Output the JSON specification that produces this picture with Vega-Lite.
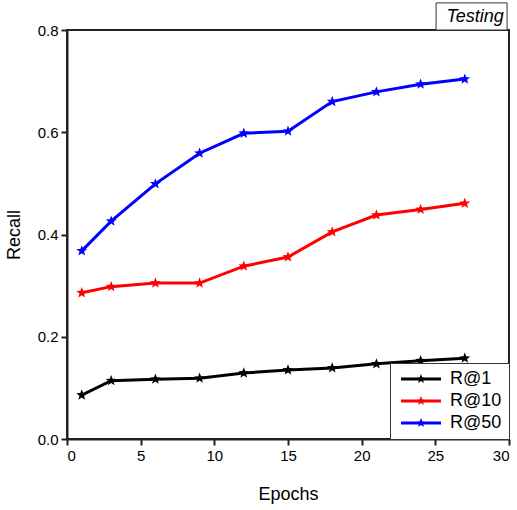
{
  "$schema": "https://vega.github.io/schema/vega-lite/v6.json",
  "width": 442,
  "height": 409,
  "autosize": {"type": "none"},
  "padding": {"left": 67, "top": 30, "right": 8, "bottom": 71},
  "background": "white",
  "config": {
    "font": "Liberation Sans",
    "view": {"stroke": "#222", "strokeWidth": 2},
    "axis": {"grid": false, "domainColor": "#222", "domainWidth": 2, "tickColor": "#222", "tickWidth": 2, "tickSize": 6, "labelColor": "black", "labelFontSize": 15, "titleFontSize": 18, "titleFontWeight": "normal", "titleColor": "black"}
  },
  "layer": [
    {
      "data": {"values": [
        {"epoch": 1, "series": "R@1", "recall": 0.086},
        {"epoch": 3, "series": "R@1", "recall": 0.114},
        {"epoch": 6, "series": "R@1", "recall": 0.117},
        {"epoch": 9, "series": "R@1", "recall": 0.119},
        {"epoch": 12, "series": "R@1", "recall": 0.129},
        {"epoch": 15, "series": "R@1", "recall": 0.135},
        {"epoch": 18, "series": "R@1", "recall": 0.139},
        {"epoch": 21, "series": "R@1", "recall": 0.147},
        {"epoch": 24, "series": "R@1", "recall": 0.153},
        {"epoch": 27, "series": "R@1", "recall": 0.158},
        {"epoch": 1, "series": "R@10", "recall": 0.286},
        {"epoch": 3, "series": "R@10", "recall": 0.298},
        {"epoch": 6, "series": "R@10", "recall": 0.305},
        {"epoch": 9, "series": "R@10", "recall": 0.305},
        {"epoch": 12, "series": "R@10", "recall": 0.338},
        {"epoch": 15, "series": "R@10", "recall": 0.356},
        {"epoch": 18, "series": "R@10", "recall": 0.405},
        {"epoch": 21, "series": "R@10", "recall": 0.438},
        {"epoch": 24, "series": "R@10", "recall": 0.449},
        {"epoch": 27, "series": "R@10", "recall": 0.461},
        {"epoch": 1, "series": "R@50", "recall": 0.368},
        {"epoch": 3, "series": "R@50", "recall": 0.426},
        {"epoch": 6, "series": "R@50", "recall": 0.499},
        {"epoch": 9, "series": "R@50", "recall": 0.559},
        {"epoch": 12, "series": "R@50", "recall": 0.598},
        {"epoch": 15, "series": "R@50", "recall": 0.602},
        {"epoch": 18, "series": "R@50", "recall": 0.660},
        {"epoch": 21, "series": "R@50", "recall": 0.679},
        {"epoch": 24, "series": "R@50", "recall": 0.694},
        {"epoch": 27, "series": "R@50", "recall": 0.704}
      ]},
      "mark": {"type": "line", "strokeWidth": 3, "point": {"shape": "M0,-1L0.247,-0.34L0.951,-0.309L0.399,0.13L0.588,0.809L0,0.42L-0.588,0.809L-0.399,0.13L-0.951,-0.309L-0.247,-0.34Z", "size": 130, "filled": true, "opacity": 1}},
      "encoding": {
        "x": {"field": "epoch", "type": "quantitative", "title": "Epochs", "scale": {"domain": [0, 30], "nice": false}, "axis": {"values": [0, 5, 10, 15, 20, 25, 30], "labelPadding": 3, "titlePadding": 22}},
        "y": {"field": "recall", "type": "quantitative", "title": "Recall", "scale": {"domain": [0, 0.8], "nice": false}, "axis": {"values": [0, 0.2, 0.4, 0.6, 0.8], "format": ".1f", "labelPadding": 3, "titlePadding": 14}},
        "color": {
          "field": "series", "type": "nominal",
          "scale": {"domain": ["R@1", "R@10", "R@50"], "range": ["black", "red", "blue"]},
          "legend": {
            "title": null, "orient": "bottom-right", "offset": 0,
            "strokeColor": "#333", "fillColor": "white", "padding": 7,
            "labelFontSize": 18, "labelColor": "black", "labelOffset": 35, "rowPadding": 4,
            "symbolType": "M-1,-0.28H7V0.28H-1Z M3,-1L3.247,-0.34L3.951,-0.309L3.399,0.13L3.588,0.809L3,0.42L2.412,0.809L2.601,0.13L2.049,-0.309L2.753,-0.34Z",
            "symbolSize": 100, "symbolStrokeWidth": 0,
            "encode": {"symbols": {"update": {"fill": {"scale": "color", "field": "value"}, "strokeWidth": {"value": 0}}}}
          }
        }
      }
    },
    {
      "data": {"values": [{"x": 25.05, "x2": 29.87, "y": 0.8, "y2": 0.853}]},
      "mark": {"type": "rect", "fill": "white", "stroke": "#333", "strokeWidth": 1, "clip": false},
      "encoding": {"x": {"field": "x", "type": "quantitative"}, "x2": {"field": "x2"}, "y": {"field": "y", "type": "quantitative"}, "y2": {"field": "y2"}}
    },
    {
      "data": {"values": [{"x": 29.65, "y": 0.826, "label": "Testing"}]},
      "mark": {"type": "text", "align": "right", "baseline": "middle", "fontStyle": "italic", "fontSize": 18, "color": "black"},
      "encoding": {"x": {"field": "x", "type": "quantitative"}, "y": {"field": "y", "type": "quantitative"}, "text": {"field": "label"}}
    }
  ]
}
